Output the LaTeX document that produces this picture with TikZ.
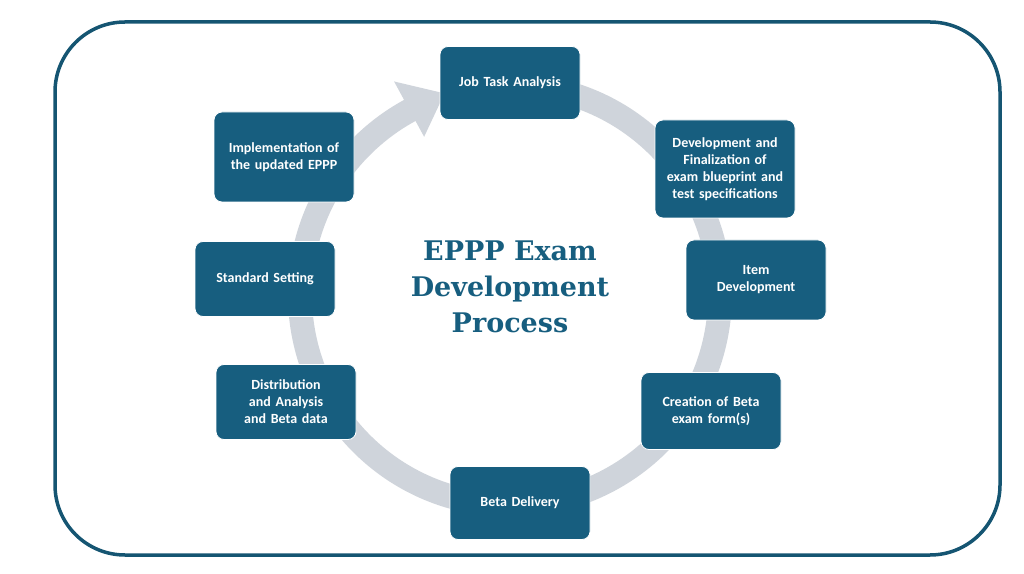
\documentclass[tikz,border=0pt]{standalone}
\usepackage{fontspec}
\setmainfont{Carlito}
\newfontfamily\titlefont{DejaVu Serif}
\usetikzlibrary{positioning,calc}
\definecolor{clrBox}{RGB}{23,94,127}
\definecolor{clrRing}{RGB}{207,212,219}
\tikzset{
  step_box/.style={draw=white, line width=0.8pt, rounded corners=8pt, fill=clrBox,
    text=white, font=\fontsize{14}{17}\selectfont\bfseries, align=center,
    minimum width=140pt, text width=128pt, inner sep=4pt},
  ring/.style={clrRing, line width=24pt}
}
\begin{document}
\begin{tikzpicture}[x=1pt,y=1pt]
  \useasboundingbox (0,0) rectangle (1024,573);
  \draw[line width=3.5pt, color=clrBox!90!black, rounded corners=70pt] (55,18) rectangle (1000,551);

  % ring with arrow head
  \draw[ring] (510,278) ++(80:210) arc (80:-242:210);
  \fill[clrRing] ($(510,278)+(108:212)$) -- ($(510,278)+(118.5:180)$) -- ($(510,278)+(118.5:243)$) -- cycle;

  \node[font=\titlefont\fontsize{27}{36}\selectfont\bfseries, text=clrBox, align=center] (T) at (510,286) {EPPP Exam\\Development\\Process};

  \node[step_box, minimum height=73pt] (A) at (510,490) {Job Task Analysis};
  \node[step_box, minimum height=98pt] (B) at (725,404) {Development and Finalization of exam blueprint and test specifications};
  \node[step_box, minimum height=80pt] (C) at (756,293) {Item\\Development};
  \node[step_box, minimum height=77pt] (D) at (711,162) {Creation of Beta exam form(s)};
  \node[step_box, minimum height=73pt] (E) at (520,70) {Beta Delivery};
  \node[step_box, minimum height=75pt] (F) at (286,171) {Distribution and Analysis and Beta data};
  \node[step_box, minimum height=75pt] (G) at (265,294) {Standard Setting};
  \node[step_box, minimum height=90pt] (H) at (284,416) {Implementation of the updated EPPP};
\end{tikzpicture}
\end{document}
